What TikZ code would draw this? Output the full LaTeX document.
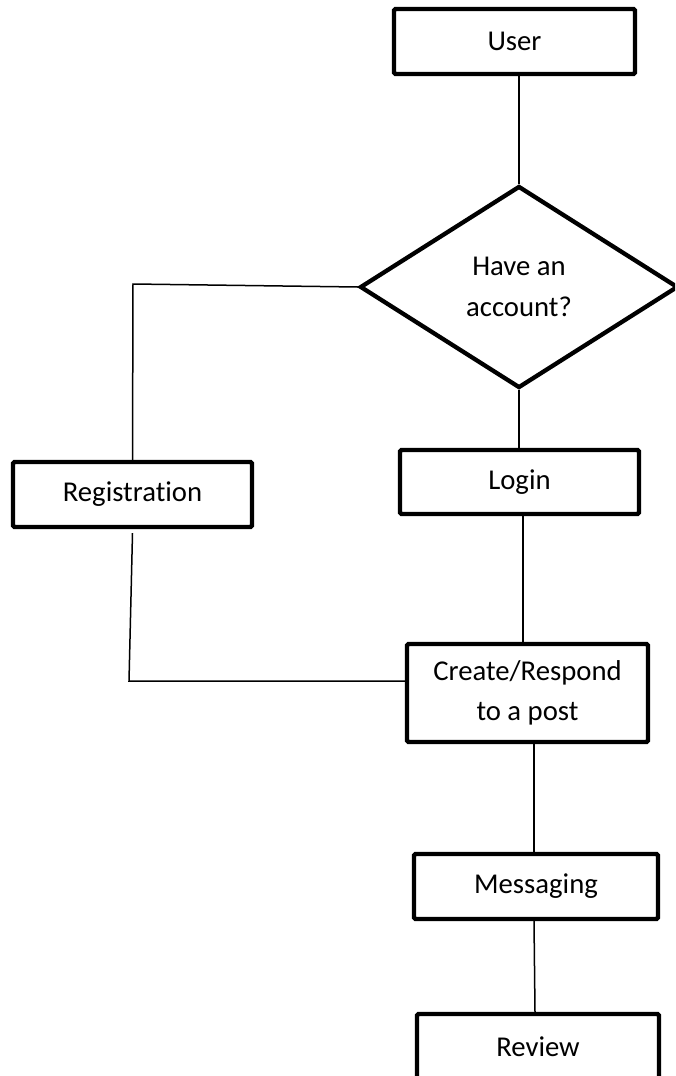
\documentclass[tikz,border=0pt]{standalone}
\usepackage{fontspec}
\setmainfont{Carlito}[Ligatures=CommonOff]
\usetikzlibrary{shapes.geometric}
\begin{document}
\begin{tikzpicture}[x=1pt,y=-1pt,
  lbl/.style={font=\fontsize{28.7}{40.5}\selectfont,align=center},
  box/.style={draw,line width=4.3pt,rounded corners=1.5pt,minimum width=241pt,minimum height=65pt,inner sep=0pt,lbl},
  dec/.style={draw,diamond,line width=4.3pt,inner sep=0pt,minimum width=318pt,minimum height=202pt,lbl},
  conn/.style={line width=1.5pt}]
\useasboundingbox (0,0) rectangle (675,1076);
\clip (0,0) rectangle (675,1076);
\fill[white] (0,0) rectangle (675,1076);
\node[box] (user) at (514.5,41.5) {User};
\node[dec] (acc) at (519,287) {Have an\\account?};
\node[box,minimum width=239pt] (reg) at (132.5,494.5) {Registration};
\node[box,minimum width=239pt,minimum height=64pt] (login) at (519.5,482) {Login};
\node[box,minimum height=98pt] (create) at (527.5,693) {Create/Respond\\to a post};
\node[box,minimum width=244pt] (msg) at (536,886.5) {Messaging};
\node[box,minimum width=242pt] (rev) at (538,1046.5) {Review};
\coordinate (c1) at (133,284);
\coordinate (c2) at (129,681);
\draw[conn] (acc.north |- user.south) -- (acc.north);
\draw[conn] (acc.west) -- (c1) -- (reg.north);
\draw[conn] ([yshift=-4pt]reg.south) -- (c2) -- (create.west |- c2);
\draw[conn] (acc.south) -- (login.north -| acc.south);
\draw[conn] ([xshift=3.5pt]login.south) -- ([xshift=-4.5pt]create.north);
\draw[conn] ([xshift=6.5pt]create.south) -- ([xshift=-2pt]msg.north);
\draw[conn] ([xshift=-2pt]msg.south) -- ([xshift=-3pt]rev.north);
\end{tikzpicture}
\end{document}
